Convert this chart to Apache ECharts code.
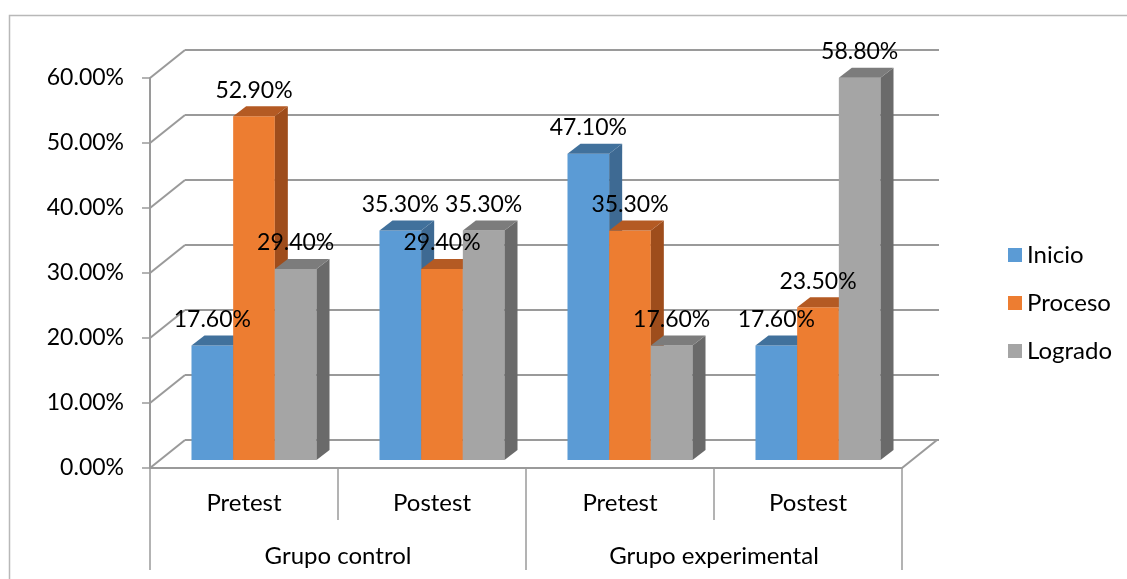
<!DOCTYPE html>
<html>
<head>
<meta charset="utf-8">
<script src="https://cdn.jsdelivr.net/npm/echarts@6/dist/echarts.min.js"></script>
<style>
  html, body { margin: 0; padding: 0; background: #fff; }
  #chart { width: 1127px; height: 579px; }
</style>
</head>
<body>
<div id="chart"></div>
<script>
// Categories, groups and series values (percent)
const categories = ['Pretest', 'Postest', 'Pretest', 'Postest'];
const groups = ['Grupo control', 'Grupo experimental'];
const seriesNames = ['Inicio', 'Proceso', 'Logrado'];
const inicio = [17.6, 35.3, 47.1, 17.6];
const proceso = [52.9, 29.4, 35.3, 23.5];
const logrado = [29.4, 35.3, 17.6, 58.8];
const yTicks = [0, 10, 20, 30, 40, 50, 60];

const FONT = 'Lato, "Open Sans", sans-serif';
const NUM_SIZE = 23;      // numeric labels
const TEXT_SIZE = 24;     // category and legend labels
const LINE = '#9a9a9a';
const WALL = [35, -28];   // depth offset of the floor / back wall
const FRONT = [10, -8];   // depth at which bar front faces sit
const DEPTH = [13, -10];  // bar thickness in depth
const GAP = 0.335;        // fraction of a category left empty

const palette = [
  { front: '#5B9BD5', top: '#41719C', side: '#3E6A93' },
  { front: '#ED7D31', top: '#B45A23', side: '#9E4D1C' },
  { front: '#A5A5A5', top: '#7C7C7C', side: '#6A6A6A' }
];
const seriesValues = [inicio, proceso, logrado];

const fmt = v => v.toFixed(2) + '%';

// Back wall gridlines, the side diagonals and the floor's right edge
function wallRenderer(params, api) {
  const cs = params.coordSys;
  const v = api.value(1);
  const y = api.coord([0, v])[1];
  const xl = cs.x, xr = cs.x + cs.width;
  const st = { stroke: LINE, lineWidth: 2 };
  const children = [
    { type: 'line', shape: { x1: xl, y1: y, x2: xl + WALL[0], y2: y + WALL[1] }, style: st },
    { type: 'line', shape: { x1: xl + WALL[0], y1: y + WALL[1], x2: xr + WALL[0] + 2, y2: y + WALL[1] }, style: st }
  ];
  if (v === 0) {
    children.push({ type: 'line', shape: { x1: xr, y1: y, x2: xr + WALL[0], y2: y + WALL[1] }, style: st });
  }
  return { type: 'group', children };
}

// One 3D column: front face, right side, top, and its value label
function barRenderer(si) {
  return function (params, api) {
    const cat = api.value(0), v = api.value(1);
    const band = api.size([1, 0])[0];
    const bw = band * (1 - GAP) / 3;
    const base = api.coord([cat, 0]);
    const top = api.coord([cat, v]);
    const x0 = base[0] + FRONT[0] + (si - 1.5) * bw;
    const x1 = x0 + bw;
    const yb = base[1] + FRONT[1];
    const yt = top[1] + FRONT[1];
    const dx = DEPTH[0], dy = DEPTH[1];
    const col = palette[si];
    return {
      type: 'group',
      children: [
        { type: 'rect', shape: { x: x0, y: yt, width: bw, height: yb - yt }, style: { fill: col.front } },
        { type: 'polygon', shape: { points: [[x1, yb], [x1 + dx, yb + dy], [x1 + dx, yt + dy], [x1, yt]] }, style: { fill: col.side } },
        { type: 'polygon', shape: { points: [[x0, yt], [x0 + dx, yt + dy], [x1 + dx, yt + dy], [x1, yt]] }, style: { fill: col.top } },
        {
          type: 'text', z2: 100,
          style: {
            text: fmt(v), x: (x0 + x1) / 2, y: yt - 26,
            align: 'center', verticalAlign: 'middle',
            fontFamily: FONT, fontSize: NUM_SIZE, fill: '#000'
          }
        }
      ]
    };
  };
}

const numStyle = { fontFamily: FONT, fontSize: NUM_SIZE, color: '#000' };
const textStyle = { fontFamily: FONT, fontSize: TEXT_SIZE, color: '#000' };

const option = {
  animation: false,
  backgroundColor: '#fff',
  graphic: [{
    type: 'rect', z: -10, silent: true,
    shape: { x: 9.5, y: 15.5, width: 1400, height: 800 },
    style: { fill: null, stroke: '#b8b8b8', lineWidth: 1.5 }
  }],
  grid: { left: 150, right: 225, top: 78, bottom: 111 },
  legend: {
    orient: 'vertical', left: 1003, top: 238,
    itemWidth: 14, itemHeight: 14, itemGap: 24, icon: 'rect',
    textStyle: Object.assign({ lineHeight: 24 }, textStyle),
    data: seriesNames
  },
  xAxis: [
    {
      type: 'category', data: categories, position: 'bottom',
      axisLine: { show: true, lineStyle: { color: LINE, width: 2 } },
      axisTick: { show: true, length: 52, interval: 0, lineStyle: { color: LINE, width: 1.5 } },
      axisLabel: Object.assign({ interval: 0, margin: 23 }, textStyle),
      splitLine: { show: false }
    },
    {
      type: 'category', data: groups, position: 'bottom',
      axisLine: { show: false },
      axisTick: { show: true, length: 102, interval: 0, lineStyle: { color: LINE, width: 1.5 } },
      axisLabel: Object.assign({ interval: 0, margin: 76 }, textStyle),
      splitLine: { show: false }
    }
  ],
  yAxis: {
    type: 'value', min: 0, max: 60, interval: 10,
    axisLine: { show: true, lineStyle: { color: LINE, width: 2 } },
    axisTick: { show: true, length: 8, lineStyle: { color: LINE, width: 1.5 } },
    axisLabel: Object.assign({ margin: 26, formatter: fmt, padding: [6, 0, 0, 0] }, numStyle),
    splitLine: { show: false }
  },
  series: [
    {
      type: 'custom', name: 'wall', z: 1, silent: true,
      renderItem: wallRenderer,
      data: yTicks.map(v => [0, v])
    }
  ].concat(seriesNames.map((name, si) => ({
    type: 'custom', name, z: 2,
    itemStyle: { color: palette[si].front },
    renderItem: barRenderer(si),
    data: seriesValues[si].map((v, i) => [i, v])
  })))
};

const chart = echarts.init(document.getElementById('chart'), null, { renderer: 'canvas' });
chart.setOption(option);
</script>
</body>
</html>
